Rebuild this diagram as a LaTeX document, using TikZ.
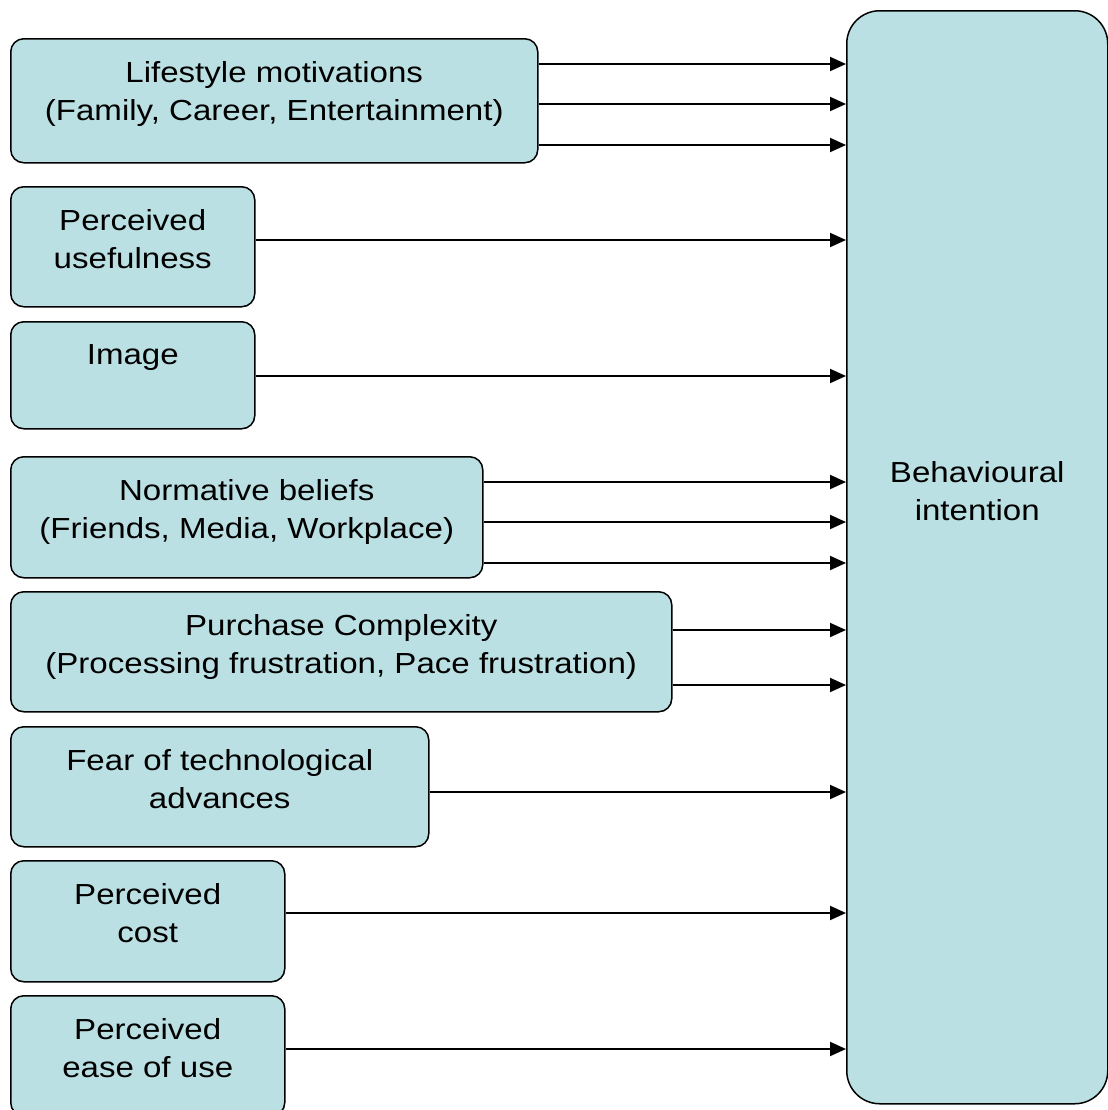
\documentclass[tikz,border=0pt]{standalone}
\usepackage{fontspec}
\setmainfont{Liberation Sans}[FakeStretch=1.14]
\usepackage{tikz}
\usetikzlibrary{arrows.meta}

\definecolor{boxfill}{RGB}{187,224,227}

\begin{document}
\begin{tikzpicture}[x=0.5pt,y=-0.5pt,
        box/.style={draw,fill=boxfill,line width=0.75pt,rounded corners=6.5pt,
            anchor=north west,inner sep=0pt},
        txt/.style={anchor=north,align=center,inner sep=0pt,yshift=-11.5pt,
            font=\fontsize{14.5}{19}\selectfont},
        arr/.style={line width=1pt,-{Triangle[length=8pt,width=7pt]}}]
        \useasboundingbox (0,0) rectangle (1108,1110);

        % Factors
        \node [box,minimum width=263.5pt,minimum height=62pt,
            label={[txt]north:Lifestyle motivations\\(Family, Career, Entertainment)}]
            (life) at (10,38) {};
        \node [box,minimum width=122pt,minimum height=60pt,
            label={[txt]north:Perceived\\usefulness}] (useful) at (10,186) {};
        \node [box,minimum width=122pt,minimum height=53.5pt,
            label={[txt]north:Image}] (image) at (10,321) {};
        \node [box,minimum width=236pt,minimum height=60.5pt,
            label={[txt]north:Normative beliefs\\(Friends, Media, Workplace)}]
            (norm) at (10,456) {};
        \node [box,minimum width=330.5pt,minimum height=60pt,
            label={[txt]north:Purchase Complexity\\(Processing frustration, Pace frustration)}]
            (purch) at (10,591) {};
        \node [box,minimum width=209pt,minimum height=60pt,
            label={[txt]north:Fear of technological\\advances}] (fear) at (10,726) {};
        \node [box,minimum width=137pt,minimum height=60.5pt,
            label={[txt]north:Perceived\\cost}] (cost) at (10,860) {};
        \node [box,minimum width=137pt,minimum height=60pt,
            label={[txt]north:Perceived\\ease of use}] (ease) at (10,995) {};

        % Behavioural intention
        \node [box,rounded corners=16.5pt,minimum width=130.5pt,minimum height=546.5pt,
            label={[txt,yshift=-214pt]north:Behavioural\\intention}] (bi) at (846,10) {};

        % Arrows
        \foreach \y in {64,104,145} \draw [arr] (life.east |- 0,\y) -- (bi.west |- 0,\y);
        \draw [arr] (useful.east |- 0,240) -- (bi.west |- 0,240);
        \draw [arr] (image.east |- 0,376) -- (bi.west |- 0,376);
        \foreach \y in {482,522,563} \draw [arr] (norm.east |- 0,\y) -- (bi.west |- 0,\y);
        \foreach \y in {630,685} \draw [arr] (purch.east |- 0,\y) -- (bi.west |- 0,\y);
        \draw [arr] (fear.east |- 0,792) -- (bi.west |- 0,792);
        \draw [arr] (cost.east |- 0,913) -- (bi.west |- 0,913);
        \draw [arr] (ease.east |- 0,1049) -- (bi.west |- 0,1049);
    \end{tikzpicture}
\end{document}
